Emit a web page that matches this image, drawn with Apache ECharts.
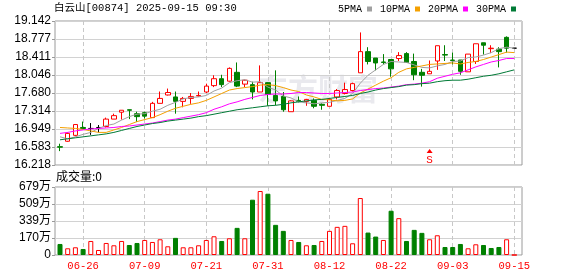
<!DOCTYPE html>
<html>
<head>
<meta charset="utf-8">
<script src="https://cdn.jsdelivr.net/npm/echarts@6/dist/echarts.min.js"></script>
<style>
html,body{margin:0;padding:0;background:#fff;}
#chart{width:578px;height:276px;}
</style>
</head>
<body>
<div id="chart"></div>
<script>
const dates = ['06-23','06-24','06-25','06-26','06-27','06-30','07-02','07-03','07-04','07-07',
  '07-08','07-09','07-10','07-11','07-14','07-15','07-16','07-17','07-18','07-21',
  '07-22','07-23','07-24','07-25','07-28','07-29','07-30','07-31','08-01','08-04',
  '08-05','08-06','08-07','08-08','08-11','08-12','08-13','08-14','08-15','08-18',
  '08-19','08-20','08-21','08-22','08-25','08-26','08-27','08-28','08-29','09-01',
  '09-02','09-03','09-04','09-05','09-08','09-09','09-10','09-11','09-12','09-15'];
const labelDates = ['06-26','07-09','07-21','07-31','08-12','08-22','09-03','09-15'];

const opens = [16.59,16.70,16.82,16.98,16.96,16.98,17.00,17.15,17.29,17.34,
  17.26,17.28,17.18,17.47,17.64,17.60,17.51,17.57,17.62,17.70,
  17.83,17.97,17.92,18.10,17.86,17.85,17.70,17.89,17.63,17.61,
  17.30,17.53,17.51,17.53,17.45,17.41,17.60,17.67,17.73,18.09,
  18.52,18.39,18.31,18.36,18.38,18.48,18.32,18.10,18.07,18.33,
  18.46,18.35,18.35,18.11,18.32,18.70,18.58,18.57,18.81,18.59];
const closes = [16.58,16.86,17.04,16.96,16.96,16.98,17.15,17.22,17.33,17.33,
  17.20,17.21,17.47,17.57,17.69,17.51,17.57,17.61,17.63,17.82,
  17.97,17.85,18.18,17.82,17.94,17.70,17.89,17.65,17.52,17.34,
  17.52,17.51,17.55,17.41,17.43,17.55,17.73,17.75,17.87,18.52,
  18.32,18.29,18.30,18.17,18.44,18.30,18.05,18.04,18.12,18.64,
  18.45,18.34,18.12,18.47,18.68,18.65,18.59,18.52,18.59,18.59];
const lows = [16.50,16.69,16.80,16.96,16.83,16.88,16.98,17.15,17.14,17.15,
  17.09,17.16,17.18,17.47,17.63,17.26,17.39,17.46,17.61,17.68,
  17.80,17.80,17.91,17.80,17.80,17.55,17.70,17.42,17.43,17.30,
  17.30,17.49,17.42,17.37,17.34,17.41,17.55,17.65,17.71,18.09,
  18.26,18.14,18.26,18.01,18.33,18.29,17.94,17.81,18.07,18.15,
  18.33,18.26,18.05,18.11,18.27,18.46,18.49,18.20,18.50,18.59];
const highs = [16.65,16.88,17.04,17.10,17.07,17.03,17.18,17.26,17.33,17.34,
  17.30,17.30,17.50,17.71,17.77,17.71,17.60,17.68,17.71,17.87,
  18.04,18.05,18.20,18.30,17.95,17.91,18.24,17.90,18.14,17.70,
  17.53,17.61,17.56,17.57,17.47,17.58,17.76,17.89,17.89,18.91,
  18.61,18.39,18.47,18.36,18.51,18.51,18.48,18.17,18.34,18.64,
  18.65,18.50,18.35,18.47,18.68,18.70,18.65,18.61,18.83,18.59];

const ma5 = [16.79,16.75,16.79,16.84,16.88,16.96,17.02,17.05,17.13,17.20,
  17.25,17.26,17.31,17.35,17.43,17.49,17.56,17.59,17.60,17.63,
  17.72,17.78,17.89,17.93,17.95,17.90,17.91,17.80,17.74,17.62,
  17.58,17.50,17.48,17.46,17.48,17.49,17.53,17.57,17.67,17.88,
  18.04,18.15,18.26,18.32,18.31,18.30,18.25,18.20,18.19,18.23,
  18.26,18.32,18.33,18.40,18.41,18.45,18.50,18.58,18.61,18.59];
const ma10 = [16.98,16.97,16.96,16.94,16.91,16.88,16.88,16.93,16.98,17.04,
  17.10,17.14,17.18,17.24,17.31,17.37,17.41,17.45,17.48,17.53,
  17.60,17.67,17.74,17.77,17.79,17.81,17.84,17.85,17.83,17.79,
  17.74,17.71,17.64,17.60,17.55,17.54,17.52,17.53,17.56,17.68,
  17.76,17.84,17.92,17.99,18.10,18.17,18.20,18.23,18.26,18.27,
  18.28,18.29,18.27,18.30,18.32,18.36,18.41,18.46,18.51,18.50];
const ma20 = [16.86,16.88,16.91,16.93,16.95,16.96,16.97,16.98,17.00,17.01,
  17.03,17.05,17.07,17.10,17.13,17.15,17.18,17.21,17.24,17.28,
  17.35,17.40,17.46,17.50,17.55,17.59,17.63,17.65,17.66,17.66,
  17.67,17.69,17.69,17.68,17.67,17.67,17.68,17.69,17.70,17.73,
  17.75,17.77,17.78,17.80,17.82,17.85,17.86,17.88,17.91,17.98,
  18.02,18.06,18.09,18.15,18.21,18.26,18.31,18.34,18.38,18.38];
const ma30 = [16.73,16.75,16.77,16.79,16.81,16.83,16.85,16.88,16.92,16.96,
  17.00,17.03,17.06,17.08,17.11,17.13,17.15,17.17,17.20,17.22,
  17.25,17.28,17.31,17.34,17.36,17.38,17.40,17.42,17.43,17.45,
  17.48,17.50,17.52,17.54,17.55,17.57,17.59,17.61,17.63,17.67,
  17.70,17.74,17.77,17.79,17.81,17.84,17.85,17.87,17.88,17.91,
  17.93,17.94,17.94,17.96,17.99,18.02,18.04,18.07,18.11,18.15];

// volume in 万
const volumes = [110,67,77,60,140,50,120,97,140,100,
  120,150,130,157,87,171,77,77,97,150,
  187,140,167,271,167,552,639,612,301,241,
  150,130,97,100,140,241,281,291,117,569,
  224,184,150,442,368,140,251,221,157,197,
  80,80,110,67,107,100,70,80,157,0];
// 1 = red (up), 0 = green (down)
const volUp = [0,1,1,0,1,1,1,1,1,0,
  0,1,1,1,1,0,1,1,1,1,
  1,0,1,0,1,0,1,0,0,0,
  1,0,1,0,1,1,1,1,1,1,
  0,0,1,0,1,0,0,0,1,1,
  0,0,0,1,1,0,0,0,1,1];

const priceTicks = ['16.218','16.583','16.949','17.314','17.680','18.046','18.411','18.777','19.142'];
const volTicks = ['0','170万','339万','509万','679万'];
const maNames = ['5PMA','10PMA','20PMA','30PMA'];
const maColors = ['#a0a0a0','#f4a000','#ff00ff','#007a36'];
const RED = '#ff0000', GREEN = '#008000';

const pMin = 16.218, pMax = 19.142, pStep = (pMax - pMin) / 8;
const vMax = 679, vStep = vMax / 4;

const candleData = dates.map((d, i) => [opens[i], closes[i], lows[i], highs[i]]);
const volData = volumes.map((v, i) => ({
  value: v,
  itemStyle: volUp[i] ? {color: '#ffffff', borderColor: RED, borderWidth: 1}
                      : {color: GREEN, borderColor: GREEN, borderWidth: 1}
}));
const showIdx = (idx) => labelDates.indexOf(dates[idx]) >= 0;
const dashed = {show: true, interval: (i) => showIdx(i), lineStyle: {type: [4, 3], color: '#c8c8c8', width: 1}};

const chart = echarts.init(document.getElementById('chart'), null, {renderer: 'canvas'});
const maSeries = [ma5, ma10, ma20, ma30].map((arr, k) => ({
  name: maNames[k], type: 'line', xAxisIndex: 1, yAxisIndex: 1, data: arr,
  symbol: 'none', color: maColors[k], lineStyle: {width: 1, color: maColors[k]}, z: 3, silent: true
}));

chart.setOption({
  animation: false,
  backgroundColor: '#ffffff',
  title: [
    {text: '白云山[00874] 2025-09-15 09:30', left: 54, top: 3, padding: 0,
     textStyle: {fontFamily: '"Liberation Mono", "Noto Sans CJK SC"', fontSize: 10.5, fontWeight: 'normal', color: '#000'}},
    {text: '成交量:0', left: 56, top: 170, padding: 0,
     textStyle: {fontFamily: '"Noto Sans CJK SC"', fontSize: 12, fontWeight: 'normal', color: '#000'}}
  ],
  legend: {
    data: maNames, left: 338, top: 4, padding: 0, align: 'right', icon: 'rect',
    itemWidth: 5, itemHeight: 5, itemGap: 8, selectedMode: false,
    textStyle: {fontFamily: '"Liberation Mono"', fontSize: 10, color: '#000', padding: [0, 0, 0, 0]}
  },
  graphic: [{
    type: 'text', left: 258, top: 74, z: 0, silent: true,
    style: {text: '东方财富', font: 'bold 30px "Noto Sans CJK SC"', fill: '#e9e9ee'}
  }],
  grid: [
    {left: 55, top: 21, width: 467, height: 144, show: true, borderColor: '#9a9a9a', borderWidth: 1, backgroundColor: 'transparent'},
    {left: 60, top: 21, width: 454.3, height: 144},
    {left: 55, top: 187, width: 467, height: 68, show: true, borderColor: '#9a9a9a', borderWidth: 1, backgroundColor: 'transparent'},
    {left: 60, top: 187, width: 454.3, height: 68}
  ],
  xAxis: [
    {gridIndex: 0, type: 'value', show: false, min: 0, max: 1},
    {gridIndex: 1, type: 'category', data: dates, boundaryGap: false,
     axisLine: {show: false}, axisTick: {show: false}, axisLabel: {show: false}, splitLine: dashed},
    {gridIndex: 2, type: 'value', show: false, min: 0, max: 1},
    {gridIndex: 3, type: 'category', data: dates, boundaryGap: false,
     axisLine: {show: false}, axisTick: {show: false},
     axisLabel: {interval: (i) => showIdx(i), color: RED, fontFamily: '"Liberation Mono"', fontSize: 10.5, margin: 6},
     splitLine: dashed}
  ],
  yAxis: [
    {gridIndex: 0, type: 'value', min: pMin, max: pMax, interval: pStep,
     axisLine: {show: false}, axisTick: {show: true, length: 3, lineStyle: {color: '#9a9a9a'}},
     axisLabel: {margin: 4, color: '#000', fontFamily: '"Liberation Sans"', fontSize: 12,
       formatter: (v) => priceTicks[Math.round((v - pMin) / pStep)]},
     splitLine: {show: true, lineStyle: {color: '#d2d2d2', width: 1}}},
    {gridIndex: 1, type: 'value', min: pMin, max: pMax, show: false},
    {gridIndex: 2, type: 'value', min: 0, max: vMax, interval: vStep,
     axisLine: {show: false}, axisTick: {show: true, length: 3, lineStyle: {color: '#9a9a9a'}},
     axisLabel: {margin: 4, color: '#000', fontFamily: '"Liberation Sans", "Noto Sans CJK SC"', fontSize: 12,
       formatter: (v) => volTicks[Math.round(v / vStep)]},
     splitLine: {show: true, lineStyle: {color: '#d2d2d2', width: 1}}},
    {gridIndex: 3, type: 'value', min: 0, max: vMax, show: false}
  ],
  series: [
    {name: 'K', type: 'candlestick', xAxisIndex: 1, yAxisIndex: 1, data: candleData, barWidth: 5, z: 2,
     itemStyle: {color: '#ffffff', color0: GREEN, borderColor: RED, borderColor0: GREEN, borderColorDoji: '#000000', borderWidth: 1},
     markPoint: {
       symbol: 'triangle', symbolSize: [6, 4], itemStyle: {color: RED},
       label: {show: true, position: 'bottom', distance: 1, formatter: 'S', color: RED, fontFamily: '"Liberation Mono"', fontSize: 11},
       data: [{coord: ['08-29', 16.50]}]
     }},
    ...maSeries,
    {name: 'VOL', type: 'bar', xAxisIndex: 3, yAxisIndex: 3, data: volData, barWidth: 5}
  ]
});
</script>
</body>
</html>
